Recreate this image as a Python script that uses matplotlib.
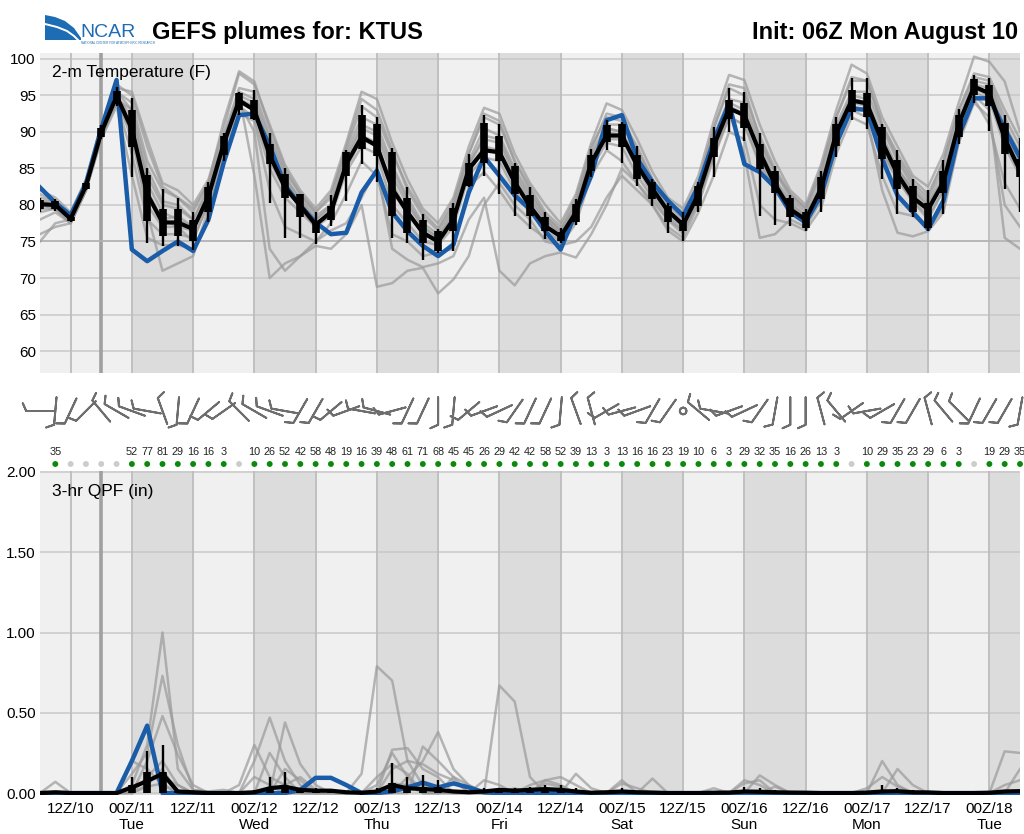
import numpy as np
import matplotlib
matplotlib.use("Agg")
import matplotlib.pyplot as plt
from matplotlib.patches import Polygon

plt.rcParams['font.family'] = ['Liberation Sans', 'DejaVu Sans']

# ---------------- data ----------------
# forecast hours after init (06Z Mon Aug 10), every 3 h
fhr = np.arange(0, 193, 3)
now_hr = 12
night_start = [18, 42, 66, 90, 114, 138, 162, 186]   # 00Z-12Z shading
xtick_hours = np.arange(6, 187, 12)
xtick_labels = ["12Z/10", "00Z/11\nTue", "12Z/11", "00Z/12\nWed", "12Z/12", "00Z/13\nThu",
                "12Z/13", "00Z/14\nFri", "12Z/14", "00Z/15\nSat", "12Z/15", "00Z/16\nSun",
                "12Z/16", "00Z/17\nMon", "12Z/17", "00Z/18\nTue"]
t_ticks = [60, 65, 70, 75, 80, 85, 90, 95, 100]
q_ticks = [0.0, 0.5, 1.0, 1.5, 2.0]
q_ticklabels = ["0.00", "0.50", "1.00", "1.50", "2.00"]

# 2-m temperature (F): ensemble mean, control (blue), box (q1,q3), whiskers (lo,hi)
t_mean = [80.1, 80.0, 78.1, 82.6, 89.9, 94.9, 90.4, 81.5,
          77.6, 77.6, 76.7, 81.2, 88.4, 94.3, 93.0, 86.8,
          82.4, 79.9, 77.3, 79.0, 85.6, 89.3, 88.1, 82.2,
          79.0, 76.2, 75.0, 78.0, 84.9, 87.5, 87.2, 83.1,
          79.8, 77.1, 75.7, 79.0, 85.8, 89.5, 89.5, 85.4,
          82.2, 79.2, 77.3, 81.5, 88.1, 93.2, 92.3, 87.2,
          82.8, 79.4, 78.0, 82.2, 89.8, 94.3, 93.9, 88.6,
          84.2, 81.0, 79.4, 83.1, 91.1, 96.2, 95.3, 89.1,
          84.7]
t_ctrl = [82.4, 80.3, 78.6, 82.9, 90.4, 97.1, 73.9, 72.3,
          73.7, 75.0, 73.7, 78.0, 85.8, 92.3, 92.5, 88.1,
          82.7, 79.9, 77.6, 76.0, 76.2, 81.7, 84.7, 79.0,
          76.4, 74.4, 73.0, 74.6, 81.7, 86.6, 84.0, 81.3,
          79.4, 76.4, 73.9, 79.0, 84.0, 91.6, 92.3, 86.3,
          83.1, 80.6, 78.5, 82.6, 88.8, 93.9, 85.6, 84.5,
          82.4, 79.0, 77.6, 81.3, 88.4, 93.2, 93.0, 86.3,
          81.3, 79.0, 76.7, 80.6, 89.5, 94.6, 94.6, 90.4,
          86.5]
t_q1 = [79.4, 79.5, 77.8, 82.2, 89.3, 93.8, 87.9, 77.8,
        75.7, 75.7, 75.0, 79.0, 86.8, 93.0, 91.8, 85.6,
        81.0, 78.3, 76.2, 78.0, 84.0, 87.7, 86.7, 78.5,
        76.2, 74.8, 73.7, 76.4, 82.6, 85.8, 86.0, 81.5,
        78.5, 76.4, 75.0, 77.6, 84.7, 88.6, 87.9, 83.5,
        80.8, 77.6, 76.4, 79.9, 86.6, 91.8, 90.5, 84.9,
        81.6, 78.3, 76.9, 80.8, 88.1, 92.7, 92.1, 86.3,
        82.2, 79.0, 76.9, 81.6, 89.3, 95.0, 93.6, 87.0,
        83.8]
t_q3 = [80.7, 80.5, 78.4, 83.0, 90.6, 95.6, 93.0, 84.1,
        79.4, 79.4, 78.0, 82.4, 89.5, 95.3, 94.3, 88.4,
        84.2, 81.5, 77.8, 79.9, 87.2, 92.3, 91.1, 87.2,
        81.0, 78.0, 76.4, 79.6, 85.8, 91.2, 89.5, 85.4,
        81.3, 78.3, 76.3, 80.1, 86.8, 90.9, 91.1, 86.8,
        83.1, 79.9, 78.0, 82.6, 89.1, 94.4, 93.9, 88.3,
        84.7, 81.0, 79.0, 83.8, 91.1, 95.7, 95.3, 90.7,
        86.1, 82.6, 80.3, 84.6, 92.3, 97.3, 96.4, 91.2,
        86.3]
t_lo = [79.0, 79.2, 77.6, 82.0, 89.0, 93.5, 83.8, 74.8,
        74.4, 74.4, 73.9, 77.6, 86.0, 92.3, 91.6, 80.3,
        75.5, 75.5, 74.6, 77.1, 80.6, 85.6, 83.1, 75.5,
        74.8, 72.5, 73.4, 73.7, 82.4, 84.0, 81.5, 78.5,
        76.7, 75.3, 74.8, 77.3, 83.8, 87.5, 85.8, 82.6,
        79.9, 76.2, 75.0, 79.0, 83.8, 90.0, 88.8, 78.5,
        77.3, 77.1, 76.4, 79.0, 86.5, 91.6, 90.4, 83.5,
        78.8, 78.3, 76.4, 78.8, 88.4, 93.9, 90.1, 82.2,
        79.0]
t_hi = [81.0, 80.8, 78.6, 83.2, 91.0, 96.2, 94.6, 85.0,
        82.2, 81.0, 79.0, 83.1, 89.8, 95.5, 95.7, 89.8,
        85.0, 81.5, 79.0, 81.3, 87.5, 93.7, 92.0, 87.8,
        82.4, 78.7, 76.7, 80.3, 87.0, 92.3, 91.1, 85.8,
        82.4, 79.0, 76.9, 80.8, 87.7, 91.6, 91.4, 88.1,
        83.5, 80.3, 79.0, 83.1, 90.7, 96.0, 95.5, 89.8,
        85.4, 81.3, 79.4, 84.7, 92.1, 97.4, 97.4, 91.1,
        87.5, 83.6, 82.0, 86.1, 93.2, 97.8, 97.4, 92.3,
        89.1]

# individual ensemble members (grey plume)
t_p01 = [82, 81, 79, 83.5, 91, 96, 95.5, 89, 83, 82, 80, 83.5, 90.5, 98, 96.5, 91, 85.5,
         82, 79.5, 82, 88.5, 95.5, 94.5, 88.5, 83.5, 79.5, 77.5, 81, 88, 93.3, 92.5, 87, 83,
         80, 77.5, 81.5, 88.5, 93.9, 93, 89, 84.5, 81, 79.5, 84, 91.5, 97.8, 97.1, 91, 86,
         82, 80, 85.5, 93, 99.2, 98, 92, 88, 84, 82.5, 87, 94, 100.3, 99.6, 96.9, 90]
t_p02 = [81, 80.5, 78.5, 83, 90.5, 95.5, 94, 86, 82, 81, 79, 83, 89.5, 96, 95.5, 89.5, 84.5,
         81.5, 79, 81.5, 87.5, 93.5, 92, 87, 82.5, 79, 76.8, 80.5, 87, 92, 91, 86, 82.5,
         79, 77, 81, 88, 92, 91.5, 88, 83.5, 80.5, 79, 83, 90.5, 96, 95, 89.5, 85,
         81.5, 79.5, 85, 92, 97, 97, 91, 87, 83.5, 81.5, 86, 93, 98, 97.5, 93, 89]
t_p03 = [80.5, 80, 78, 82.5, 90, 95, 92, 84, 80, 79.5, 78, 82, 89, 95, 94, 88, 83.5,
         81, 78.5, 80, 87, 92, 91, 85.5, 81, 77.5, 76, 79.5, 86, 90.5, 89.5, 85, 81.5,
         78.5, 76.5, 80.5, 87, 91, 91, 87, 83, 80, 78, 82.5, 89.5, 94.5, 94, 88.5, 84.5,
         81, 79, 84, 91, 95.5, 95.5, 90.5, 86, 82.5, 80.5, 85, 92, 97, 96.5, 91, 87]
t_p04 = [80, 80, 78, 82.5, 90, 95, 91, 82, 78, 78.5, 77, 81.5, 88.5, 94.5, 93.5, 87.5, 83,
         80.5, 78, 79.5, 86, 90.5, 89.5, 84, 80, 77, 75.5, 78.5, 85.5, 89, 88.5, 84, 80.5,
         78, 76, 80, 86.5, 90.5, 90, 86, 82.5, 79.5, 77.5, 82, 89, 94, 93, 88, 83.5,
         80.5, 78.5, 83, 90.5, 95, 94.5, 89.5, 85, 82, 80, 84, 91.5, 96.5, 96, 90, 86]
t_p05 = [79.5, 79.5, 78, 82.5, 89.5, 94.5, 89, 80, 77, 77, 76.5, 81, 88, 94, 93, 86, 82,
         80, 77.5, 79, 85.5, 89.5, 88.5, 82.5, 79, 76, 75, 78, 85, 88, 87.5, 83.5, 80,
         77.5, 75.5, 79.5, 86, 90, 89.5, 85.5, 82, 79, 77, 81.5, 88, 93, 92.5, 87, 83,
         80, 78, 82.5, 90, 94.5, 94, 88.5, 84.5, 81.5, 79.5, 83, 91, 96, 95.5, 89, 85]
t_p06 = [79, 79.5, 77.5, 82, 89.5, 94, 87, 78, 76, 76, 75.5, 80, 87.5, 93.5, 92, 85, 81,
         79, 77, 78.5, 84.5, 88, 87, 80, 77.5, 75, 74.5, 77, 84, 86.5, 86, 82, 79,
         76.5, 75, 78, 85, 88.5, 88, 84, 81, 78, 76.5, 80.5, 87, 92, 91, 85.5, 82,
         79, 77.5, 81.5, 89, 93.5, 93, 87, 83.5, 80.5, 78.5, 82, 90, 95.5, 94.5, 88, 84]
t_p07 = [78, 79, 77.5, 82, 89, 93.5, 84, 75.5, 74.5, 74.5, 74, 78, 86.5, 92.5, 91.5, 82, 77,
         76, 75, 77.5, 81.5, 86, 84, 76, 75, 73, 73.5, 74, 82.5, 84.5, 82, 79, 77,
         75.5, 74.5, 77.5, 84, 87.5, 86, 83, 80, 76.5, 75, 79, 84, 90, 89, 80, 78,
         77.5, 76.5, 79.5, 87, 92, 91, 84, 79, 78.5, 77, 79.5, 89, 94.5, 91, 83, 79.5]
t_p08 = [76, 77, 77.5, 82, 89, 94, 90, 79, 71, 72, 73, 79.5, 88, 94, 90, 74, 71,
         73, 74.4, 74, 76, 80, 68.8, 69.3, 71, 71.4, 67.9, 69.8, 73, 80, 83, 80, 78,
         75, 74.5, 75, 77, 81, 84, 82, 80, 77, 75.5, 80, 86.5, 92, 91, 86, 82.5,
         80, 78.5, 82.5, 90, 94.5, 94, 89, 85, 82, 80, 83.5, 91, 96, 95, 88.5, 85]
t_p09 = [75, 77.5, 78, 82.5, 90, 94.5, 93, 83, 79, 78, 77, 81.5, 88.5, 95, 84, 70, 72,
         73, 75, 76.5, 77.5, 81, 85, 74, 72.5, 71.5, 72, 73, 78, 81, 71, 69, 72,
         73, 73.5, 72.8, 76, 80, 85, 83, 80.5, 78, 76, 80.5, 87.5, 93.5, 92, 87.5, 83,
         79, 77.5, 81.5, 89, 93.5, 93, 87.5, 83.5, 80.5, 78, 82, 89.5, 95, 93, 75.5, 74]
t_p10 = [80.5, 80.5, 78.5, 83, 90.5, 95.5, 93, 85, 80.5, 80, 78, 82.5, 89, 95.5, 94.5, 89, 84,
         80.5, 78, 80, 86.5, 91, 90, 85, 80.5, 77, 75.5, 79, 85.5, 89.5, 89, 84.5, 81,
         78, 76, 79.5, 86, 90.5, 90, 86, 82, 79, 77, 81, 87, 92.5, 87, 75.5, 76,
         78, 77, 80.5, 88, 93, 92, 82, 76.2, 75.7, 76.4, 79, 88.5, 94, 92, 80, 77]
t_p11 = [81.5, 80.5, 78.5, 83, 91, 96.5, 95, 88, 82.5, 81, 79.5, 83, 91.5, 98.3, 96.9, 90.5, 85,
         81.5, 79, 81, 88, 94.5, 93, 87.5, 82, 78.5, 76.5, 80, 87, 92.5, 91.5, 86, 82,
         78.5, 76.5, 80, 87.5, 92.5, 92, 87.5, 83.5, 80.5, 78.5, 83, 90.5, 96.5, 96, 89, 84.5,
         81.5, 79.5, 84.5, 92, 97.5, 97, 91, 86.5, 83, 81, 86, 93, 97.5, 97, 92, 88]
t_p12 = [80, 79.5, 77.5, 82, 89.5, 94.5, 90, 81, 78, 77, 75, 80.5, 88, 94.5, 93, 86.5, 82.5,
         79.5, 77, 79, 85, 89, 88, 83, 79, 76.5, 75, 78, 84.5, 87.5, 87.5, 83, 80,
         77, 75.5, 79, 85.5, 89, 89, 85, 81.5, 78.5, 76.5, 81, 88.5, 93.5, 92.5, 87.5, 83.5,
         79.5, 78, 82, 89.5, 94, 93.5, 88, 84, 81, 79, 83, 90.5, 96, 95, 89.5, 85.5]

# 3-hr QPF (in)
q_mean = [0, 0.005, 0, 0, 0, 0, 0.035, 0.075,
          0.12, 0.01, 0.005, 0, 0, 0, 0.005, 0.03,
          0.04, 0.02, 0.015, 0.015, 0.005, 0.002, 0.01, 0.05,
          0.03, 0.025, 0.02, 0.01, 0.005, 0.01, 0.02, 0.015,
          0.02, 0.025, 0.02, 0.01, 0.002, 0.005, 0.01, 0.005,
          0.003, 0, 0, 0, 0.002, 0.003, 0.01, 0.008,
          0.005, 0.003, 0.002, 0, 0, 0, 0.003, 0.01,
          0.012, 0.005, 0.004, 0, 0, 0, 0.002, 0.01,
          0.012]
q_q3 = [0, 0.006, 0, 0, 0, 0, 0.05, 0.13,
        0.13, 0.012, 0.006, 0.004, 0.004, 0, 0.006, 0.03,
        0.04, 0.02, 0.012, 0.012, 0.006, 0.004, 0.012, 0.06,
        0.03, 0.04, 0.04, 0.012, 0.006, 0.012, 0.02, 0.015,
        0.02, 0.025, 0.02, 0.012, 0.004, 0.006, 0.012, 0.006,
        0.004, 0, 0, 0, 0.004, 0.004, 0.012, 0.012,
        0.006, 0.004, 0.004, 0, 0, 0, 0.004, 0.012,
        0.012, 0.006, 0.004, 0, 0, 0, 0.004, 0.012,
        0.012]
q_hi = [0, 0.01, 0, 0, 0, 0, 0.1, 0.26,
        0.3, 0.02, 0.01, 0, 0, 0, 0.02, 0.1,
        0.13, 0.03, 0.03, 0.02, 0.01, 0, 0.03, 0.19,
        0.1, 0.11, 0.08, 0.02, 0.01, 0.03, 0.03, 0.03,
        0.04, 0.05, 0.05, 0.03, 0.005, 0.01, 0.03, 0.01,
        0.005, 0, 0, 0, 0.005, 0.005, 0.04, 0.03,
        0.02, 0.005, 0.005, 0, 0, 0, 0.01, 0.05,
        0.03, 0.02, 0.005, 0, 0, 0, 0.005, 0.02,
        0.02]
q_ctrl = [0, 0, 0, 0, 0, 0, 0.2, 0.42,
          0, 0, 0, 0, 0, 0, 0, 0,
          0, 0.02, 0.095, 0.095, 0.05, 0, 0, 0.01,
          0.035, 0.065, 0.035, 0.06, 0.035, 0.005, 0, 0,
          0, 0, 0, 0, 0, 0, 0, 0,
          0, 0, 0, 0, 0, 0, 0, 0,
          0, 0, 0, 0, 0, 0, 0, 0,
          0, 0, 0, 0, 0, 0, 0, 0,
          0]
q_p01 = [0, 0.07, 0, 0, 0, 0, 0.05, 0.3,
         1.0, 0.15, 0.02, 0.01, 0.02, 0, 0, 0,
         0, 0, 0, 0, 0, 0, 0.05, 0.25,
         0.1, 0, 0, 0, 0, 0, 0, 0,
         0, 0.08, 0.05, 0, 0, 0, 0, 0,
         0, 0, 0, 0, 0, 0, 0, 0,
         0, 0, 0, 0, 0, 0, 0, 0,
         0, 0, 0, 0, 0, 0, 0, 0,
         0]
q_p02 = [0, 0, 0, 0, 0, 0, 0.12, 0.25,
         0.73, 0.3, 0.02, 0, 0, 0, 0.2, 0.47,
         0.2, 0.05, 0, 0, 0, 0, 0, 0,
         0, 0.29, 0.2, 0.1, 0, 0, 0, 0,
         0, 0, 0, 0, 0, 0, 0.08, 0,
         0, 0, 0, 0, 0, 0, 0, 0.11,
         0.05, 0, 0, 0, 0, 0, 0, 0,
         0, 0, 0, 0, 0, 0, 0, 0.26,
         0.25]
q_p03 = [0, 0, 0, 0, 0, 0, 0, 0.2,
         0.48, 0.24, 0.05, 0, 0, 0, 0, 0,
         0.44, 0.18, 0.05, 0, 0, 0.12, 0.79, 0.7,
         0.2, 0.05, 0, 0, 0, 0, 0, 0,
         0, 0, 0, 0, 0, 0, 0, 0,
         0, 0, 0, 0, 0, 0, 0, 0,
         0, 0, 0, 0, 0, 0, 0, 0.2,
         0.05, 0, 0, 0, 0, 0, 0, 0,
         0]
q_p04 = [0, 0, 0, 0, 0, 0, 0.2, 0.15,
         0.05, 0, 0, 0, 0, 0.05, 0.3, 0.1,
         0.05, 0, 0, 0, 0, 0, 0, 0.27,
         0.28, 0.15, 0.1, 0, 0, 0, 0.67, 0.57,
         0.1, 0, 0, 0, 0, 0, 0, 0,
         0.09, 0, 0, 0, 0, 0, 0, 0,
         0, 0, 0, 0, 0, 0, 0, 0,
         0.15, 0.05, 0, 0, 0, 0, 0, 0,
         0]
q_p05 = [0, 0, 0, 0, 0, 0, 0, 0.1,
         0.2, 0.05, 0, 0, 0, 0, 0, 0.25,
         0.1, 0, 0, 0, 0, 0, 0, 0,
         0.1, 0.2, 0.38, 0.15, 0.05, 0, 0, 0,
         0, 0, 0, 0.12, 0.03, 0, 0, 0,
         0, 0, 0, 0, 0, 0, 0.06, 0.08,
         0, 0, 0, 0, 0, 0, 0, 0,
         0, 0, 0, 0, 0, 0, 0, 0,
         0.15]
q_p06 = [0, 0, 0, 0, 0, 0, 0, 0.05,
         0.15, 0, 0, 0, 0, 0, 0, 0,
         0.15, 0.08, 0, 0, 0, 0, 0, 0.15,
         0.2, 0.18, 0.12, 0.08, 0, 0.08, 0.05, 0,
         0, 0.06, 0.04, 0, 0, 0, 0, 0,
         0, 0, 0, 0, 0, 0, 0, 0,
         0, 0, 0, 0, 0, 0, 0.03, 0.1,
         0.04, 0, 0, 0, 0, 0, 0, 0,
         0]
q_p07 = [0, 0, 0, 0, 0, 0, 0.03, 0.08,
         0.1, 0.05, 0, 0, 0, 0, 0.1, 0.05,
         0, 0, 0, 0, 0, 0, 0.1, 0.18,
         0.12, 0, 0, 0, 0, 0, 0, 0,
         0.05, 0.08, 0.1, 0.05, 0, 0, 0.06, 0.03,
         0, 0, 0, 0, 0, 0, 0, 0,
         0.04, 0, 0, 0, 0, 0, 0, 0,
         0, 0, 0, 0, 0, 0, 0, 0.05,
         0.08]
q_p08 = [0, 0, 0, 0, 0, 0, 0, 0.04,
         0.06, 0, 0, 0, 0, 0, 0, 0.02,
         0.05, 0.1, 0.02, 0, 0, 0, 0, 0.06,
         0.05, 0, 0, 0.1, 0.05, 0, 0, 0.03,
         0, 0, 0, 0, 0, 0, 0, 0,
         0, 0, 0, 0, 0.03, 0, 0.08, 0.05,
         0, 0, 0, 0, 0, 0, 0, 0,
         0, 0, 0, 0, 0, 0, 0, 0,
         0]

# 10-m wind: direction (deg, from) and speed (kt) at each forecast hour
w_dir = [270, 185, 205, 225, 320, 300, 290, 280,
         340, 185, 205, 230, 235, 315, 300, 290,
         280, 210, 210, 230, 250, 280, 285, 255,
         205, 205, 180, 185, 230, 250, 245, 215,
         205, 205, 185, 340, 345, 240, 255, 250,
         210, 215, 0, 310, 280, 250, 245, 215,
         190, 180, 180, 345, 320, 235, 260, 240,
         210, 210, 345, 320, 315, 205, 210, 210,
         190]
w_spd = [10, 10, 10, 10, 10, 10, 10, 10,
         10, 10, 10, 10, 10, 10, 10, 10,
         10, 10, 10, 10, 10, 10, 10, 10,
         10, 10, 10, 10, 10, 10, 10, 10,
         10, 10, 10, 10, 10, 10, 10, 10,
         10, 10, 0, 10, 10, 10, 10, 10,
         10, 10, 10, 10, 10, 10, 10, 10,
         10, 10, 10, 10, 10, 10, 10, 10,
         10]

# probability of precipitation (%) for each 3-h period ending at fhr[1:]
pop = [35, 0, 0, 0, 0, 52, 77, 81, 29, 16, 16, 3, 0,
       10, 26, 52, 42, 58, 48, 19, 16, 39, 48, 61, 71, 68, 45, 45, 26, 29,
       42, 42, 58, 52, 39, 13, 3, 13, 16, 16, 23, 19, 10, 6, 3, 29, 32, 35,
       16, 26, 13, 3, 0, 10, 29, 35, 23, 29, 6, 3, 0, 19, 29, 35]

t_members = [t_p01, t_p02, t_p03, t_p04, t_p05, t_p06, t_p07, t_p08, t_p09, t_p10, t_p11, t_p12]
q_members = [q_p01, q_p02, q_p03, q_p04, q_p05, q_p06, q_p07, q_p08]

# ---------------- figure ----------------
W, H = 1024, 834
fig = plt.figure(figsize=(W / 100, H / 100), dpi=100)


def rect(l, t, r, b):
    return [l / W, 1 - b / H, (r - l) / W, (b - t) / H]


ax_t = fig.add_axes(rect(40, 53, 1020, 373))
ax_m = fig.add_axes(rect(40, 373, 1020, 471))
ax_q = fig.add_axes(rect(40, 471, 1020, 795))

BLUE = '#1a5ca8'
GREY = '#9a9a9a'


def background(ax, yticks, hl_color='#c8c8c8'):
    ax.set_facecolor('#f0f0f0')
    for s in night_start:
        ax.axvspan(s, s + 12, color='#dcdcdc', zorder=0, lw=0)
    for y in yticks:
        ax.axhline(y, color=hl_color, lw=1.1, zorder=1)
    for h in xtick_hours:
        ax.axvline(h, color='#bdbdbd', lw=1.3, zorder=1)
    ax.axvline(now_hr, color='#a0a0a0', lw=2.6, zorder=1)
    for s in ax.spines.values():
        s.set_visible(False)
    ax.tick_params(length=0, labelsize=11, pad=3)
    ax.set_xlim(0, 192)


# temperature panel
background(ax_t, t_ticks)
ax_t.axhline(75, color='#b4b4b4', lw=1.2, zorder=1)
ax_t.set_ylim(57.0, 100.8)
ax_t.set_yticks(t_ticks)
ax_t.set_xticks([])
for m in t_members:
    ax_t.plot(fhr, m, color=GREY, lw=1.8, alpha=0.7, zorder=2)
ax_t.plot(fhr, t_ctrl, color=BLUE, lw=3.2, zorder=3)
ax_t.vlines(fhr, t_lo, t_hi, color='k', lw=1.7, zorder=4)
ax_t.vlines(fhr, t_q1, t_q3, color='k', lw=5.5, zorder=4)
ax_t.plot(fhr, t_mean, color='k', lw=3.0, zorder=5)
ax_t.text(12 / 980, (373 - 72) / 320, "2-m Temperature (F)", transform=ax_t.transAxes,
          fontsize=12.5, va='center', ha='left', zorder=6)

# QPF panel
background(ax_q, q_ticks)
ax_q.set_ylim(-0.012, 2.006)
ax_q.set_yticks(q_ticks)
ax_q.set_yticklabels(q_ticklabels)
ax_q.set_xticks(xtick_hours)
ax_q.set_xticklabels(xtick_labels)
ax_q.tick_params(axis='x', pad=5)
for m in q_members:
    ax_q.plot(fhr, m, color=GREY, lw=1.8, alpha=0.7, zorder=2)
ax_q.plot(fhr, q_ctrl, color=BLUE, lw=3.2, zorder=3)
ax_q.vlines(fhr, 0, q_hi, color='k', lw=1.7, zorder=4)
ax_q.vlines(fhr, 0, q_q3, color='k', lw=5.5, zorder=4)
ax_q.plot(fhr, q_mean, color='k', lw=3.0, zorder=5)
ax_q.text(12 / 980, (795 - 492) / 324, "3-hr QPF (in)", transform=ax_q.transAxes,
          fontsize=12.5, va='center', ha='left', zorder=6)

# middle strip: wind barbs, PoP numbers and dots
ax_m.set_xlim(0, 192)
ax_m.set_ylim(0, 98)
ax_m.axis('off')
wd = np.deg2rad(np.array(w_dir, dtype=float))
ws = np.array(w_spd, dtype=float)
u = -ws * np.sin(wd)
v = -ws * np.cos(wd)
ax_m.barbs(fhr, np.full(len(fhr), 60.0), u, v, length=6.3, pivot='middle',
           barbcolor='#6e6e6e', linewidth=1.4,
           sizes=dict(height=0.28, emptybarb=0.12), clip_on=False)
pop_x = fhr[1:]
for x, p in zip(pop_x, pop):
    if p > 0:
        ax_m.text(x, 19, str(p), ha='center', va='center', fontsize=7.8, color='#222222')
ax_m.scatter(pop_x, np.full(len(pop_x), 7.0), s=18,
             c=['#0a8a0a' if p > 0 else '#cccccc' for p in pop], lw=0, clip_on=False)

# header
fig.text(152 / W, 1 - 32 / H, "GEFS plumes for: KTUS", fontsize=17, fontweight='bold',
         va='center', ha='left')
fig.text(1018 / W, 1 - 32 / H, "Init: 06Z Mon August 10", fontsize=17, fontweight='bold',
         va='center', ha='right')

# NCAR logo (drawn)
ax_h = fig.add_axes([0, 0, 1, 1], zorder=-5)
ax_h.set_xlim(0, W)
ax_h.set_ylim(H, 0)
ax_h.axis('off')
ax_h.add_patch(Polygon([(45, 15), (55, 17), (65, 21), (74, 28), (81, 38), (81, 40), (45, 40)],
                       closed=True, facecolor='#1d6db5', edgecolor='none'))
ax_h.plot([45, 57, 67, 74, 78], [24, 27, 31, 36, 40], color='white', lw=1.4)
ax_h.text(80, 32, "NCAR", fontsize=14, color='#1d6db5', va='center', ha='left')
ax_h.text(81, 43, "NATIONAL CENTER FOR ATMOSPHERIC RESEARCH", fontsize=2.2, color='#1d6db5',
          va='center', ha='left')

fig.savefig("out.png", dpi=100)
